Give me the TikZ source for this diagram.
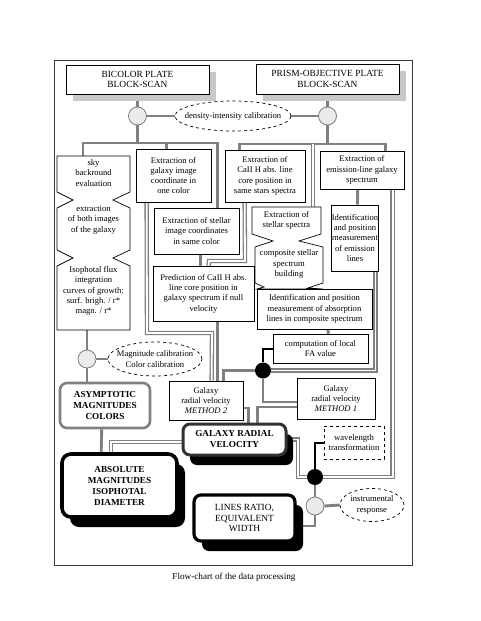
\documentclass[tikz,border=0pt]{standalone}
\usepackage{fontspec}
\setmainfont{Liberation Serif}
\usetikzlibrary{shapes.geometric,calc,shadows,backgrounds}
\definecolor{lgray}{RGB}{128,128,128}
\definecolor{shad}{RGB}{200,200,200}
\definecolor{cfill}{RGB}{235,235,235}
\definecolor{framec}{RGB}{60,60,60}
\definecolor{dgray}{RGB}{50,50,50}
\begin{document}
\begin{tikzpicture}[x=1pt,y=-1pt,
  gl/.style={draw=lgray,line width=2.9pt},
  dbl/.style={draw=lgray,line width=1.3pt,double=white,double distance=1.8pt},
  bl/.style={draw=black,line width=2pt},
  sm/.style={font=\fontsize{8.6}{10.3}\selectfont,align=center,inner sep=0pt},
  bx/.style={sm,draw=black,line width=0.7pt,fill=white},
  ttl/.style={font=\fontsize{9.4}{10.5}\selectfont,align=center,draw=black,line width=0.8pt,fill=white,inner sep=0pt,
    drop shadow={shadow xshift=7pt,shadow yshift=-7pt,fill=shad,opacity=1}},
  rb/.style={font=\bfseries\fontsize{9.2}{11}\selectfont,align=center,fill=white,rounded corners=7pt,inner sep=0pt},
  blkshadow/.style={drop shadow={shadow xshift=8pt,shadow yshift=-10pt,fill=black,opacity=1}},
  circ/.style={circle,draw=lgray,fill=cfill,line width=0.8pt,minimum size=18pt,inner sep=0pt},
  bdot/.style={circle,fill=black,minimum size=16pt,inner sep=0pt},
  del/.style={ellipse,draw=black,dashed,line width=0.7pt,fill=white,inner sep=0pt}
]
\useasboundingbox (0,0) rectangle (480,621);
\draw[framec,line width=1pt] (54,60) rectangle (412,565);

% title boxes
\node[ttl,minimum width=143pt,minimum height=29pt] (B1) at (137.5,79.5) {BICOLOR PLATE\\BLOCK-SCAN};
\node[ttl,minimum width=143pt,minimum height=30pt] (B2) at (327.5,79) {PRISM-OBJECTIVE PLATE\\BLOCK-SCAN};
\node[circ] (C1) at (137.5,116) {};
\node[circ] (C2) at (327.5,116) {};
\node[del,minimum width=116pt,minimum height=30pt,label={[sm]center:density-intensity calibration}] (E1) at (233,116) {};

% sky background zigzag box
\draw[black,line width=0.7pt,fill=white] (57,156) -- (130,156) -- (130,192) -- (113,200) -- (130,208) -- (130,250) -- (113,258) -- (130,266) -- (130,330)
  -- (57,330) -- (57,266) -- (73,258) -- (57,250) -- (57,208) -- (73,200) -- (57,192) -- cycle;
\node[sm] (S1) at (93.5,173) {sky\\backround\\evaluation};
\node[sm] (S2) at (93.5,220) {extraction\\of both images\\of the galaxy};
\node[sm] (S3) at (93.5,291) {Isophotal flux\\integration\\curves of growth:\\surf. brigh. / r*\\magn. / r*};
\coordinate (skytop) at (83,156);
\coordinate (skybot) at (87,330);

% extraction boxes
\node[bx,minimum width=75pt,minimum height=53pt] (G) at (173.5,175.5) {Extraction of\\galaxy image\\coordinate in\\one color};
\node[bx,minimum width=80pt,minimum height=52pt] (CA) at (265,176) {Extraction of\\CaII H abs. line\\core position in\\same stars spectra};
\node[bx,minimum width=84pt,minimum height=38pt] (EM) at (362,170) {Extraction of\\emission-line galaxy\\spectrum};
\node[bx,minimum width=85pt,minimum height=46pt] (SI) at (196.5,231) {Extraction of stellar\\image coordinates\\in same color};

% stellar spectra zigzag
\draw[black,line width=0.7pt,fill=white] (252,207) -- (321,207) -- (321,234) -- (299,241) -- (323,247) -- (323,283) -- (308,288) -- (323,289)
  -- (257,289) -- (264,287) -- (255,283) -- (255,247) -- (273,241) -- (252,234) -- cycle;
\node[sm] (SS1) at (286.5,220.5) {Extraction of\\stellar spectra};
\node[sm] (SS2) at (289,264) {composite stellar\\spectrum\\building};
\coordinate (sstop) at (313,207);
\node[bx,minimum width=115pt,minimum height=40pt] (AB) at (314.5,309) {Identification and position\\measurement of absorption\\lines in composite spectrum};

\node[bx,minimum width=46pt,minimum height=66pt] (ID) at (355,238) {Identification\\and position\\measurement\\of emission\\lines};
\node[bx,minimum width=101pt,minimum height=55pt] (PR) at (203.5,293.5) {Prediction of CaII H abs.\\line core position in\\galaxy spectrum if null\\velocity};
\node[bx,minimum width=95pt,minimum height=29pt] (FA) at (320.5,348.5) {computation of local\\FA value};
\node[bx,minimum width=74pt,minimum height=39pt] (M2) at (206,400.5) {Galaxy\\radial velocity\\\textit{METHOD 2}};
\node[bx,minimum width=78pt,minimum height=41pt] (M1) at (336,398.5) {Galaxy\\radial velocity\\\textit{METHOD 1}};
\node[bdot] (D1) at (263,370.5) {};
\node[bdot] (D2) at (315,477) {};

% left lower part
\node[circ] (C3) at (87,359) {};
\node[del,minimum width=94pt,minimum height=34pt,label={[sm]center:{Magnitude calibration\\Color calibration}}] (E3) at (155,359) {};
\node[rb,draw=lgray,line width=2.6pt,minimum width=90pt,minimum height=45pt] (AS) at (105,405.5) {ASYMPTOTIC\\MAGNITUDES\\COLORS};
\node[rb,draw=dgray,line width=3pt,minimum width=103pt,minimum height=31pt,drop shadow={shadow xshift=7pt,shadow yshift=-10pt,fill=black,opacity=1}] (GRV) at (234.5,439.5) {GALAXY RADIAL\\VELOCITY};
\node[rb,draw=black,line width=3.6pt,blkshadow,minimum width=115pt,minimum height=63pt,rounded corners=9pt] (ABS) at (119.5,485.5) {ABSOLUTE\\MAGNITUDES\\ISOPHOTAL\\DIAMETER};
\node[rb,draw=black,line width=3.2pt,blkshadow,minimum width=101pt,minimum height=46pt,font=\fontsize{9.4}{10.5}\selectfont] (LR) at (244.5,518) {LINES RATIO,\\EQUIVALENT\\WIDTH};
\node[bx,dashed,minimum width=60pt,minimum height=33pt] (WT) at (354,442.5) {wavelength\\transformation};
\node[circ] (C4) at (315,506) {};
\node[del,minimum width=64pt,minimum height=33pt,label={[sm]center:{instrumental\\response}}] (E4) at (372,505) {};

\node[font=\fontsize{9.2}{11}\selectfont] (CAP) at (234,577) {Flow-chart of the data processing};

\begin{scope}[on background layer]
\fill[white] (0,0) rectangle (480,621);
\coordinate (LB) at (137.5,143);
\coordinate (RB) at (327.5,144);
\draw[gl] (B1.south) -- (C1.north);
\draw[gl] (B2.south) -- (C2.north);
\draw[gl] (C1.east) -- (E1.west);
\draw[gl] (E1.east) -- (C2.west);
\draw[gl] (C1.south) -- (LB);
\draw[gl] (skytop) |- (LB) -| ([xshift=64pt]SI.north west);
\draw[gl] ([xshift=31pt]G.north west) -- ++(0,-7);
\draw[gl] (C2.south) -- (RB);
\draw[gl] ([xshift=15pt]CA.north west) |- (RB) -| ([xshift=66pt]EM.north west);
\draw[dbl] (sstop) -- (sstop |- RB);
\draw[gl] ([xshift=38pt]EM.south west) -- ([xshift=26pt]ID.north west);
\draw[dbl] ([xshift=73pt]EM.south west) |- (D2.east);
\draw[dbl] ([xshift=44pt]ID.south west) |- (D1.east);
\draw[gl] ([xshift=71pt]AB.south west) -- ([xshift=56pt]FA.north west);
\draw[gl] (D1.west) -| ([xshift=55pt]M2.north west);
\draw[gl] (D1.south) |- ([yshift=-3.5pt]M1.west);
\draw[gl] ([yshift=-8.5pt]M1.west) -| ([xshift=76pt]GRV.north west);
\draw[gl] ([yshift=-7.5pt]M2.east) -| ([xshift=67pt]GRV.north west);
\draw[dbl] ([xshift=11pt]G.south west) -- (147,333) -- (212,333) -- ([xshift=43pt]M2.north west);
\draw[gl] ([xshift=65pt]PR.south west) -- ([xshift=49pt]M2.north west);
\draw[gl] ([xshift=47pt]SI.south west) -- ([xshift=48pt]PR.north west);
\draw[dbl] ([xshift=20pt]CA.south west) -- (245,261) -- (209,261) -- ([xshift=56pt]PR.north west);
\draw[gl] (skybot) -- (C3.north);
\draw[gl] (C3.south) -- (C3.south |- AS.north);
\draw[gl] (C3.east) -- (E3.west);
\draw[gl] ([xshift=43pt]AS.south west) -- ([xshift=41pt]ABS.north west);
\draw[dbl] ([yshift=-2.5pt]GRV.west) -| ([xshift=51pt]ABS.north west);
\draw[dbl] (GRV.east) -- (298,439.5) |- (D2.west);
\draw[gl] (D2.south) -- (C4.north);
\draw[gl] (C4.east) -- (E4.west);
\draw[gl] (C4.south) |- ([yshift=-8pt]LR.east);
\end{scope}
\draw[bl] (FA.west) -| (D1.north);
\draw[bl] (WT.west) -| (D2.north);
\end{tikzpicture}
\end{document}
